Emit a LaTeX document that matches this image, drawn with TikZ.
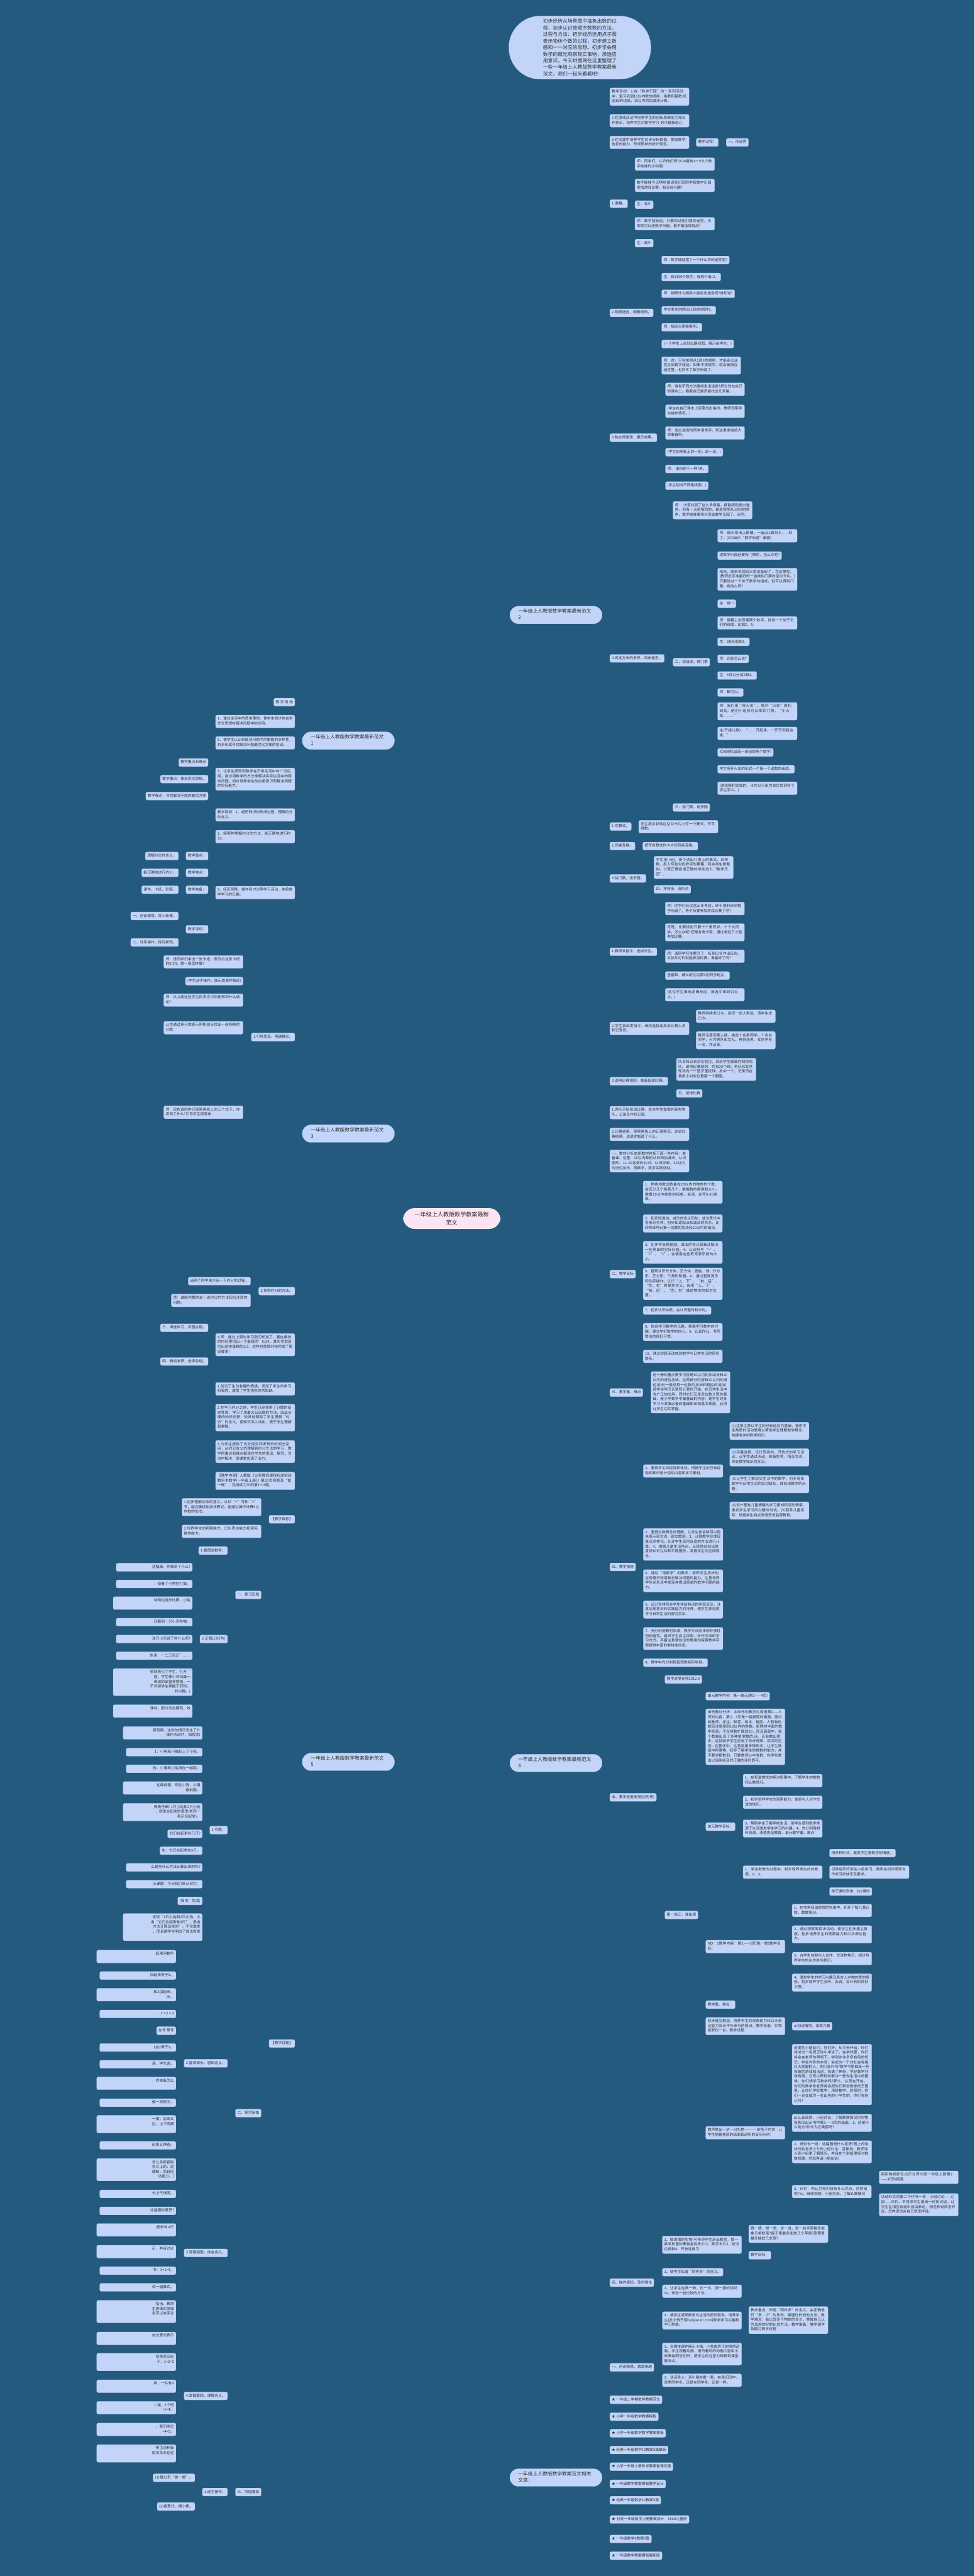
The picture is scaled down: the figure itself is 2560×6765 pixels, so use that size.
\documentclass[tikz,border=0pt]{standalone}
\usepackage{fontspec}
\setmainfont{Noto Sans CJK SC}
\XeTeXlinebreaklocale "zh"
\XeTeXlinebreakskip=0pt plus 1pt
\pgfdeclarelayer{bg}
\pgfsetlayers{bg,main}
\definecolor{bgc}{HTML}{245A7E}
\definecolor{nfill}{HTML}{C2D5F9}
\definecolor{nline}{HTML}{A9C0EE}
\definecolor{ntext}{HTML}{2E2E2E}
\definecolor{rootfill}{HTML}{FDE4F3}
\tikzset{
 nd/.style={fill=nfill, draw=nline, line width=0.6pt, rounded corners=4pt, inner xsep=5pt, inner ysep=4.2pt, text=ntext, align=left, font=\fontsize{9.6}{12.6}\selectfont, execute at begin node=\strut, execute at end node=\strut},
 lab/.style={fill=nfill, draw=nline, line width=0.6pt, rounded corners=22pt, inner xsep=22pt, inner ysep=7pt, text=ntext, align=flush left, text width=198pt, font=\fontsize{12.8}{16}\selectfont, execute at begin node=\strut, execute at end node=\strut},
 rootn/.style={fill=rootfill, draw=white, line width=0.6pt, rounded corners=30pt, inner xsep=30pt, inner ysep=10pt, text=ntext, align=center, font=\fontsize{15}{20}\selectfont},
 ellip/.style={fill=nfill, draw=nline, line width=0.6pt, rounded corners=82pt, minimum width=373pt, minimum height=166pt, text=ntext, align=left, font=\fontsize{12.9}{17.3}\selectfont},
 ln/.style={draw=white, line width=1.5pt, rounded corners=5pt},
 fan/.style={draw=white, line width=1.5pt},
}
\newcommand\boxR[5]{\node[nd,anchor=west,text width=#4pt] (#1) at (#2,#3) {#5};}
\newcommand\oneR[4]{\node[nd,anchor=west] (#1) at (#2,#3) {#4};}
\newcommand\boxL[5]{\node[nd,anchor=east,text width=#4pt] (#1) at (#2,#3) {#5};}
\newcommand\oneL[4]{\node[nd,anchor=east] (#1) at (#2,#3) {#4};}
\newcommand\fragL[5]{\node[nd,align=flush right,anchor=east,text width=#4pt] (#1) at (#2,#3) {#5};}
\newcommand\linkR[2]{\draw[ln] (#1.east) -- ++(10,0) |- (#2.west);}
\newcommand\linkL[2]{\draw[ln] (#1.west) -- ++(-10,0) |- (#2.east);}
\newcommand\fanR[2]{\draw[fan] (#1.east) .. controls +(12,0) and +(-12,0) .. (#2.west);}
\newcommand\fanL[2]{\draw[fan] (#1.west) .. controls +(-12,0) and +(12,0) .. (#2.east);}
\begin{document}
\begin{tikzpicture}[x=1pt,y=-1pt]
\fill[bgc] (0,0) rectangle (2560,6765);
\useasboundingbox (0,0) rectangle (2560,6765);

% ---------- root and summary ----------
\node[rootn] (root) at (1187,3200) {一年级上人教版数学教案最新\\范文};
\node[ellip] (ell) at (1523.5,125) {初步经历从场景图中抽象出数的过\\程，初步认识按顺序数数的方法。\\过程与方法：初步经历运用点子图\\表示物体个数的过程，初步建立数\\感和一一对应的思想。初步学会用\\数学的眼光观察现实事物，渗透应\\用意识。今天树图网在这里整理了\\一些一年级上人教版数学教案最新\\范文，我们一起来看看吧!};

% ---------- branch 2 (right) ----------
\node[lab,anchor=east] (b2) at (1582,1615) {一年级上人教版数学教案最新范文\\2};
\boxR{a1}{1602}{254}{198}{教学目标：1.在“数学乐园”的一系列活动中，复习巩固10以内数的顺序，序数和基数;巩固10的组成，10以内的加减法计算。}
\boxR{a2}{1602}{317}{198}{2.在游戏活动中培养学生的创新思维能力和合作意识，培养学生对数学学习 的兴趣和信心;}
\boxR{a3}{1602}{374}{198}{3.在实践中培养学生初步分析数据，提取数学信息的能力，形成简单的统计观念。}
\oneR{a3a}{1829}{374}{教学过程：}
\oneR{a3b}{1908}{374}{一、闯迷宫}
\oneR{a4}{1602}{535}{1.激趣。}
\boxR{a4a}{1668}{431}{199}{师：同学们，认识他们吗?(CAI播放1～9九个数字娃娃的小动画)}
\boxR{a4b}{1668}{487}{199}{数字娃娃今天特地邀请我们班同学到数学乐园参加游戏比赛。有没有兴趣?}
\oneR{a4c}{1668}{537.5}{生：有!!!}
\boxR{a4d}{1668}{587.5}{199}{师：数字娃娃说，只要闯过他们摆的迷宫，大家就可以进数学乐园。敢不敢接受挑战?}
\oneR{a4e}{1668}{638.5}{生：敢!!!}
\oneR{a5}{1602}{821.5}{2.观察迷宫，明确规则。}
\oneR{a5a}{1738}{683}{师：数学娃娃摆了一个什么样的迷宫呢?}
\oneR{a5b}{1738}{727.5}{生：有1到9个数字，有两个出口。}
\oneR{a5c}{1738}{771.5}{师：按照什么顺序才能走出迷宫呢?谁知道?}
\oneR{a5d}{1738}{815}{学生发言(按照从1到9的顺序)。}
\oneR{a5e}{1738}{859.5}{师：指给大家看看吧。}
\oneR{a5f}{1738}{903.5}{(一个学生上台划出路线图，展示给学生。)}
\boxR{a5g}{1738}{960}{198}{师：对。只有按照从1到9的顺序，才能走出迷宫见到数字娃娃。如果不按顺序，就会被困在迷宫里，也到不了数学乐园了。}
\oneR{a6}{1602}{1149.5}{3.独立闯迷宫，展示成果。}
\boxR{a6a}{1748}{1022.5}{198}{师：谁有不同方法路线走出迷宫?把它划在自己的课本上。看看自己最多能找出几条路。}
\boxR{a6b}{1748}{1080}{198}{(学生在自己课本上用笔划出路线，教师观察学生操作情况。)}
\boxR{a6c}{1748}{1137}{198}{师：走出迷宫的同学请举手。到这里来指给大家看看吧。}
\oneR{a6d}{1748}{1187.5}{(学生到黑板上划一划，说一说。)}
\oneR{a6e}{1748}{1231.5}{师： 谁和他不一样?来。}
\oneR{a6f}{1748}{1275.5}{(学生划出不同路线图。)}
\oneR{a7}{1602}{1729}{4.肯定方法的多样，闯出迷宫。}
\boxR{a7a}{1768}{1340}{198}{师： 大家找到了这么多条路，都能顺利走出迷宫。但有一点是相同的，都是按照从1到9的顺序。数字娃娃要带大家去数学乐园了。走吧。}
\oneR{a7b}{1768}{1739}{二、说组成，得门票}
\boxR{a7b1}{1885}{1407}{199}{师：请大家闭上眼睛，一起从1数到9……到了。(CAI出示“数学乐园”画面)}
\oneR{a7b2}{1885}{1459}{进数学乐园还要有门票的，怎么办呢?}
\boxR{a7b3}{1885}{1521.5}{199}{哈哈，原来早就给大家准备好了，在这里呢。(教师出示准备好的一沓类似门票的空白卡片。)只要说对一个关于数字的组成，就可以得到门票。有信心吗?}
\oneR{a7b4}{1885}{1585.5}{生：有!!!}
\boxR{a7b5}{1885}{1636}{199}{师：屏幕上出现哪两个数字，就说一个关于它们的组成。比如2，6。}
\oneR{a7b6}{1885}{1685.5}{生：2和6组成8。}
\oneR{a7b7}{1885}{1730}{师：还能怎么说?}
\oneR{a7b8}{1885}{1774}{生：6可以分成2和4。}
\oneR{a7b9}{1885}{1818.5}{师：都可以。}
\boxR{a7b10}{1885}{1868}{199}{师：我们来“开火车”。哪列“火车”顺利到站，他们小组就可以拿到门票。“小火车，……”}
\boxR{a7b11}{1885}{1926}{199}{生(齐接儿歌)：“……开起来，一开开到我这来。”}
\oneR{a7b12}{1885}{1976}{(CAI随机出现一组组的两个数字)}
\oneR{a7b13}{1885}{2020}{学生用开火车的形式一个接一个说数的组成。}
\boxR{a7b14}{1885}{2070}{199}{(游戏顺利完成的，卡片以小组为单位发到各个学生手中。)}
\oneR{a7c}{1768}{2120.5}{三、验门票，进乐园}
\oneR{a8}{1602}{2170.5}{1.写算式。}
\boxR{a8a}{1678}{2171}{198}{学生用水彩笔在空白卡片上写一个算式，不写得数。}
\oneR{a9}{1602}{2222}{2.同桌互换。}
\oneR{a9a}{1688.6}{2222}{把写有算式的卡片和同桌互换。}
\oneR{a10}{1602}{2307}{3.验门票，进乐园。}
\boxR{a10a}{1718}{2278}{198}{学生按小组，挨个读出门票上的算式，说得数，投入写有对应数字的票箱，其余学生做裁判。计算正确投递正确的学生进入“数学乐园”。}
\oneR{a10b}{1718}{2335.5}{四、排排坐，选队员}
\oneR{a11}{1602}{2499.5}{1.教师发指令，选拔学生。}
\boxR{a11a}{1747.5}{2386}{198}{师：同学们经过这么多考验，终于顺利来到数学乐园了。等不及要参加游戏比赛了吧?}
\boxR{a11b}{1747.5}{2448.5}{198}{可是，比赛规定只要十个男同学，十个女同学。怎么办呢?还是考考大家，通过考验了才能参加比赛。}
\boxR{a11c}{1747.5}{2511}{198}{师：请同学们坐整齐了，听到口令作出反应，又快又对的就能参加比赛。准备好了吗?}
\oneR{a11d}{1747.5}{2562}{竖着数，请从前往后第3位同学起立。}
\boxR{a11e}{1747.5}{2612.5}{198}{(这位学生做出正确反应，被选中来到讲台上。)}
\boxR{a12}{1602}{2701}{198}{2.学生尝试发指令，继续选拔出其余比赛人员和记录员。}
\boxR{a12a}{1828.7}{2669}{198}{教师继续发口令，选择一定人数后，请学生发口令。}
\boxR{a12b}{1828.7}{2732}{198}{教师注意观察人数，挑选十名男同学，十名女同学，分为男队和女队。再挑选男、女同学各一名，作记录。}
\oneR{a13}{1602}{2839.5}{3.说明比赛规则，准备投球比赛。}
\boxR{a13a}{1777}{2808.5}{199}{队员和记录员各就位，其余学生做裁判和啦啦队。说明比赛规则：共有20个球，男队和女队轮流向一个篮子里投球，投中一个，记录员在黑板上对应位置画一个圈圈。}
\oneR{a13b}{1777}{2871.5}{五、投球比赛}
\boxR{a14}{1602}{2922}{198}{1.两队开始投球比赛，其余学生做裁判和啦啦队，记录员作好记录。}
\boxR{a15}{1602}{2979}{198}{2.比赛结束，观察黑板上的记录情况，说说比赛结果，说说你知道了什么。}

% ---------- branch 4 (right) ----------
\node[lab,anchor=east] (b4) at (1582,4630) {一年级上人教版数学教案最新范文\\4};
\boxR{d1}{1602}{3049}{198}{一、教材分析本册教材包括下面一些内容：准备课、位置、10以内数的认识和加减法，认识图形、11-20各数的认识、认识钟表、20以内的进位加法，用数学，数学实践活动。}
\oneR{d2}{1602}{3346}{二、教学目标}
\boxR{d2a}{1689.5}{3131}{198}{1、熟练地数出数量在20以内的物体的个数，会区分几个和第几个，掌握数的顺序和大小，掌握10以内各数的组成，会读、会写0-20各数。}
\boxR{d2b}{1689.5}{3213}{198}{2、初步知道加、减法的含义和加、减法算式中各部分名称，初步知道加法和减法的关系，比较熟练地计算一位数的加法和10以内的减法。}
\boxR{d2c}{1689.5}{3289}{198}{3、初步学会根据加、减法的含义和算法解决一些简单的实际问题。4、认识符号“=”、“>”、“<”，会使用这些符号表示数的大小。}
\boxR{d2d}{1689.5}{3371.5}{198}{5、直观认识长方体、正方体、圆柱、球、长方形、正方形、三角形和圆。6、通过直观演示和动手操作，认识“上、下”、“前、后”、“左、右”的基本含义，会用“上、下”、“前、后”、“左、右”描述物体的相对位置。}
\oneR{d2e}{1689.5}{3441.5}{7、初步认识钟表，会认识整时和半时。}
\boxR{d2f}{1689.5}{3498}{198}{8、体会学习数学的乐趣，提高学习数学的兴趣，建立学好数学的信心。9、认真作业、书写整洁的良好习惯。}
\boxR{d2g}{1689.5}{3562}{198}{10、通过实践活动体验数学与日常生活的密切联系。}
\oneR{d3}{1602}{3657}{三、教学重、难点}
\boxR{d3a}{1710}{3656.5}{198}{这一册的重点教学内容是10以内的加减法和20以内的进位加法。这两部分内容和20以内的退位减法(一般总称一位数的加法和相应的减法)是学生学习认数和计算的开始，在日常生活中有广泛的应用，同时它们又是多位数计算的基础，是小学数学中最基础的内容，是学生终身学习与发展必备的基础知识和基本技能，必须让学生切实掌握。}
\oneR{d4}{1602}{4115}{四、教学措施}
\boxR{d4a}{1690}{3863}{199}{1、重视学生的经验和体验，根据学生的已有经验和知识设计活动内容和学习素材。}
\boxR{d4a1}{1917}{3758}{198}{(1)注意注意以学生的已有经验为基础，提供学生熟悉的活动情境以帮助学生理解数学概念，构建有关的数学知识。}
\boxR{d4a2}{1917}{3827.5}{198}{(2)尽量选择、设计现实的、开放式的学习活动，让学生通过活动，积极思考、相互交流，体会数学知识的含义。}
\boxR{d4a3}{1917}{3897.5}{198}{(3)让学生了解现实生活中的数学，初步感受数学与日常生活的密切联系，体验用数学的乐趣。}
\boxR{d4a4}{1917}{3967}{198}{(4)设计富有儿童情趣的学习素材和活动情境，激发学生学习的兴趣与动机。(5)联系儿童实际、根据学生特点渗透思想品德教育。}
\boxR{d4b}{1690}{4056}{199}{2、重视对数概念的理解，让学生体会数可以用来表示和交流，建立数感。3、计算教学应体现算法多样化，允许学生采用合适的方法进行计算。4、根据儿童生活特点，从感性经验出发直观认识立体和平面图形，发展学生的空间观念。}
\boxR{d4c}{1690}{4151.5}{199}{5、通过“用数学”的教学，培养学生初步的应用意识和用数学解决问题的能力。注意培养学生从生活中发现并提出简单的数学问题的能力。}
\boxR{d4d}{1690}{4227}{199}{6、设计安排符合学生年龄特点的实践活动，注意应用意识和实践能力的培养，使学生体验数学与日常生活的密切关系。}
\boxR{d4e}{1690}{4303}{199}{7、充分利用教材资源，教学方法应体现开放性和创造性。组织学生自主探索、合作交流的学习方式。尽量注意使创设的情境为探索数学问题提供丰富的素材或信息。}
\oneR{d4f}{1690}{4366.5}{8、教学中充分利用直观教具和学具。}
\oneR{d5}{1602}{4720}{五、教学进度安排(见附表)}
\oneR{d5a}{1746.6}{4410.5}{教学进度安排2012.9}
\oneR{d5b}{1746.6}{5029}{第一单元：准备课}
\oneR{d5b1}{1854}{4454.5}{单元教学内容：第一单元(第1——4页)}
\boxR{d5b2}{1854}{4561}{198}{单元教材分析：本单元的教学内容是第2——5页的内容，第2、3页是一幅美丽的画面，图中有教师、学生、鲜花、树木、楼房、人和物的数目注意用到10以内的各数。新教材丰富的教学资源，不仅将数扩展到20，而且画面中，每个数量出现了多种角度数的.话，还会数出很多，这就给予学生创设了充分观察、探究的空间。在教学中，注意采用多种形式，让学生数画中的事物，初步了解学生的数数的能力，并不要求都数到，只要教师心中有数，在学生数出以后能给及时正确的评价即可。}
\oneR{d5b3}{1854}{4797}{单元教学目标：}
\boxR{e1}{1952}{4676}{198}{1、在和谐愉悦的探讨氛围中，了解学生的数数和认数情况。}
\boxR{e2}{1952}{4733}{198}{2、初步培养学生的观察能力，体验与人合作交流的快乐。}
\boxR{e3}{1952}{4802}{198}{3、帮助学生了解学校生活，使学生感到数学来源于生活激发学生学习的兴趣。4、充分利用材料资源，渗透思品教育。单元教学重、难点：}
\boxR{e4}{1952}{4916.6}{198}{1、学生数数的过程中，初步培养学生的的数感。2、3、}
\oneR{e4a}{2179}{4866.5}{用多种形式，激发学生爱数学的情感。}
\boxR{e4b}{2179}{4916.6}{199}{引导组织好学生小组学习，使学生初步感知合作学习的快乐及要求。}
\oneR{e4c}{2179}{4967.5}{单元课时安排：约2课时}
\boxR{d5b4}{1854}{5112}{198}{NO：1教学内容：第2——5页(数一数)教学目标：}
\boxR{f1}{2081}{5017}{199}{1、在非常和谐愉悦的氛围中，初步了解儿童认数、数数情况。}
\boxR{f2}{2081}{5080}{199}{2、通过观察等探求活动，使学生初步建立数感，初步培养学生的观察能力和口头表达能力。}
\boxR{f3}{2081}{5143.5}{199}{3、合学生体验与人合作、交流物快乐，初步培养学生的合作参与意识。}
\boxR{f4}{2081}{5206.5}{199}{4、激发学生的学习兴趣及其对人对物的爱的情感，初步培养学生会听、会说、会补充的良好习惯。}
\oneR{d5b5}{1854}{5264.5}{教学重、难点：}
\boxR{d5b6}{1854}{5321}{198}{初步建立数感，培养学生的观察能力和口头表达能力及合作与参与的意识。教学准备：实物投影仪一台。教学过程：}
\oneR{g1}{2081}{5321}{a)创设情境，激发兴趣}
\boxR{d5b7}{1854}{5601}{198}{教师拿出一封一份礼物————金龟子的信，让学生随着美丽的画面和动听的音乐听信：}
\boxR{h1}{2081}{5448}{199}{亲爱的小朋友们，你们好，从今天开始，你们将成为一名真正的小学生了，在学校里，你们将会在老师的带领下，学到许许多多有用的知识，学会许多的本领，会成为一个对社会有着巨大贡献的人，你们高兴吗?数学书里都是一些有趣的游戏和活动，充满了神奇，学好数学非常有用，它可以帮助你解决一些你生活中的困难，你们想学习数学吗?那么，从现在开始，你们的数学陈老师将会把你们带进数学的王国里，让你们学好数学，用好数学，到那时，你们一定会成为一名出色的小学生的，你们有信心吗?}
\boxR{h2}{2081}{5575}{199}{b)认真观察，小组讨论，了解数数情况用实物投影仪出示书中第2——3页的画面。1、这是什么地方?你认为它美丽吗?}
\boxR{h3}{2081}{5651}{199}{2、请你说一说：这幅图是什么意思?图上的物体分别有多少?(先小组讨论，互相说，教师深入到小组里了解情况，并且在个别组里探讨数数规律，然后再请小朋友说)}
\boxR{h4}{2081}{5755.5}{198}{3、评价：你认为你们组有什么优点，别的组呢?三、继续观察，小组交流，了解认数情况}
\boxR{h4a}{2309.5}{5718}{198}{用实物投影仪出示北师大版一年级上册第2——3页的图画}
\boxR{h4b}{2309.5}{5790}{198}{活动形式同第二个环节一样：小组讨论——汇报——评价，不苛求学生用统一的形式说，让学生在相互启迪中自由表达，想怎样说就怎样说，怎样说适合自己就怎样说。}
\oneR{d6}{1602}{5994.6}{四、操作感知，及时强化}
\boxR{d6a}{1740}{5895}{198}{1、数周围的实物(可带领学生走出教室，数一数学校里的事物各有多少)2、数字卡片3、按方位数数4、开放性练习}
\boxR{d6a1}{1967}{5866.5}{198}{猜一猜，想一想、说一说，验一验手里最多能拿几根粉笔?盘子里最多能放几个苹果?笔筒里最多能放几支笔?}
\oneR{d6a2}{1967}{5922.5}{教学目标：}
\oneR{d6b}{1740}{5967}{1、使学生知道“同样多”的含义。}
\boxR{d6c}{1740}{6017}{198}{2、让学生在数一数、比一比、摆一摆的活动中，体验一些比较的方法。}
\boxR{d6d}{1740}{6094}{198}{3、使学生感受数学与生活的密切联系，培养学生[此文转于网taojiaoan.com]数学学习兴趣和学习热情。}
\boxR{d6d1}{1967}{6093}{198}{教学重点：知道“同样多”的含义，会正确进行“多、少”的比较，掌握比的较的方法。教学难点：会比较多个物体的多少，掌握自己认为适用的好的比较方法。教学准备：教学课件及图片教学过程}
\oneR{d7}{1602}{6217}{一、创设情境，激发情趣}
\boxR{d7a}{1740}{6182}{198}{1、多媒体课件展示小猪、小兔盖房子的情境动画。学生观看动画，用所看到的动画内容讲小故事给同学们听，把学生的注意力转移到课堂教学中。}
\boxR{d7b}{1740}{6251}{198}{2、谈话导入：请小朋友看一看，在我们班中，是男同学多，还是女同学多，还是一样。}

% ---------- related articles (right) ----------
\node[lab,anchor=east] (b6) at (1582,6506.5) {一年级上人教版数学教案范文相关\\文章：};
\oneR{s1}{1602}{6302}{★ 一年级上学期数学教案范文}
\oneR{s2}{1602}{6346.5}{★ 小学一年级数学教案模板}
\oneR{s3}{1602}{6390}{★ 小学一年级数学教学教案模板}
\oneR{s4}{1602}{6434}{★ 经典一年级数学10教案5篇最新}
\oneR{s5}{1602}{6478}{★ 小学一年级上册数学教案备课五篇}
\oneR{s6}{1602}{6523}{★ 一年级数学教案模板教学设计}
\oneR{s7}{1602}{6566}{★ 经典一年级数学10教案5篇}
\boxR{s8}{1602}{6616.5}{198}{★ 分类一年级数学上册教案设计 - 5068儿童网}
\oneR{s9}{1602}{6667.7}{★ 一年级数学0教案5篇}
\oneR{s10}{1602}{6711.7}{★ 一年级数学教案模板最新版}

% ---------- branch 1 (left) ----------
\node[lab,anchor=west] (b1) at (794,1945) {一年级上人教版数学教案最新范文\\1};
\oneL{l1a}{774.7}{1844}{教\ 学\ 目\ 标}
\boxL{l1b}{774.7}{1894.7}{198}{1、通过生活中的简单事例，使学生初步体会到优化思想在解决问题中的应用。}
\boxL{l1c}{774.7}{1951}{198}{2、使学生认识到解决问题中的策略的多样性，初步形成寻找解决问题最优化方案的意识。}
\boxL{l1d}{774.7}{2046}{198}{3、让学生感受到数学在日常生活中的广泛应用，尝试用数学的方法来解决实际生活中的简单问题，初步培养学生的应用意识和解决问题的实际能力。}
\oneL{l1d1}{547}{2002.5}{教学重点和难点}
\oneL{l1d2}{547}{2046}{教学重点：体会优化思想。}
\oneL{l1d3}{547}{2090.5}{教学难点：寻找解决问题的最优方案}

% ---------- branch 3 (left) ----------
\node[lab,anchor=west] (b3) at (794,2977) {一年级上人教版数学教案最新范文\\3};
\boxL{l3a}{774.7}{2140}{198}{教学目标：1、经历知识的形成过程，理解约分的含义。}
\boxL{l3b}{774.7}{2197}{198}{2、探索并掌握约分的方法，能正确地进行约分。}
\boxL{l3c}{774.7}{2344}{198}{3、经历观察、操作和讨论等学习活动，体验数学学习的乐趣。}
\oneL{l3c1}{547}{2248}{教学重点：}
\oneL{l3c1a}{469}{2248}{理解约分的含义。}
\oneL{l3c2}{547}{2292}{教学难点：}
\oneL{l3c2a}{469}{2292}{能正确地进行约分。}
\oneL{l3c3}{547}{2336.5}{教学准备：}
\oneL{l3c3a}{469}{2336.5}{课件、卡纸、彩笔。}
\oneL{l3c4}{547}{2440.5}{教学活动：}
\oneL{l3c4a}{469}{2405.5}{一、创设情境，导入新课。}
\oneL{l3c4b}{469}{2475}{二、动手操作，探究新知。}
\oneL{l3d}{774.7}{2723.5}{1.引导发现，明确概念。}
\boxL{l3d1}{638.7}{2526}{198}{师：请同学们拿出一张卡纸，表示出这张卡纸的8/24，想一想怎样做?}
\oneL{l3d2}{638.7}{2576.5}{(学生动手操作，展示成果并解说)}
\boxL{l3d3}{638.7}{2626.5}{198}{师：从上面这些学生的发言中你能得到什么结论?}
\boxL{l3d4}{638.7}{2699}{198}{让生通过用分数表示阴影部分找出一组相等的分数：}
\boxL{l3d5}{638.7}{2921}{198}{师：现在请同学们观察黑板上的三个式子，你发现了什么?引导学生回答出：}
\oneL{l3e}{774.7}{3390.6}{2.探索约分的方法。}
\oneL{l3e1}{658.5}{3364.5}{请两个同学来介绍一下约分的过程。}
\boxL{l3e2}{658.5}{3415}{198}{师：谁能完整的说一说约分的方法和应注意的问题。}
\boxL{l3f}{774.7}{3531.5}{198}{3.师：通过上面的学习我们知道了，要在最快的时间里切出一个蛋糕的’8/24，其实也就是切出这块蛋糕的1/3，这样也就顺利地完成了题目要求!}
\oneL{l3f1}{547}{3487}{三、课堂练习，巩固应用。}
\oneL{l3f2}{547}{3575.5}{四、畅谈收获，全课总结。}
\boxL{l3g}{774.7}{3647.5}{198}{1.创设了生动有趣的情境，调动了学生的学习积极性，激发了学生强烈的求知欲。}
\boxL{l3h}{774.7}{3723}{198}{2.在学习约分之前，学生已经探索了分数的基本性质，学习了求最大公因数的方法，因此合理的知识迁移，较好地帮助了学生理解“约分”的含义，使知识深入浅出，便于学生理解和掌握。}
\boxL{l3i}{774.7}{3812}{198}{3.为学生提供了充分探究和发现的时间与空间，从约分含义的理解到约分方法的学习，教学的重点和难点都是在学生的发现、探究、交流中解决，使课堂充满了活力。}

% ---------- branch 5 (left) ----------
\node[lab,anchor=west] (b5) at (794,4627) {一年级上人教版数学教案最新范文\\5};
\boxL{l5a}{774.7}{3889}{198}{【教学内容】人教版《义务教育课程标准实验教科书数学(一年级上册)》第23页例题及“做一做”，完成练习三的第1～3题。}
\oneL{l5b}{774.7}{3990}{【教学目标】}
\boxL{l5b1}{686.5}{3958}{198}{1.初步理解加法的意义，认识“+”号和“=”号，能正确读出加法算式，能通过操作计算5以内数的加法。}
\boxL{l5b2}{686.5}{4021.6}{198}{2.培养学生的观察能力、口头表达能力和实际操作能力。}
\oneL{l5c}{774.7}{5366.5}{【教学过程】}
\oneL{l5c1}{686.5}{4188.5}{一、复习旧知}
\oneL{m1}{598}{4072}{1.看图说数字。}
\oneL{m2}{598}{4304.5}{2.示图(幻灯片)}
\fragL{m2a}{505.6}{4115.8}{190}{这幅画，你看到了什么?}
\fragL{m2b}{505.6}{4159.7}{190}{：我看了小熊在打鼓。}
\fragL{m2c}{505.6}{4210}{198}{动物在跑步比赛，小兔\\}
\fragL{m2d}{505.6}{4260}{190}{还看到一只小鸟在喊。}
\fragL{m2e}{505.6}{4304.3}{190}{这只小鸟说了些什么呢?}
\fragL{m2f}{505.6}{4348}{190}{生读：一二三四五”……}
\fragL{m2g}{505.6}{4417.5}{198}{很快吸引了学生，打开“\\题，学生像小鸟归巢一\\表现的欲望非常强。一\\不仅使学生掌握了旧知，\\的兴趣。]}
\fragL{m2h}{505.6}{4493.5}{198}{课件，配以动态展现，效\\}
\oneL{l5c2}{686.5}{5549.5}{二、探究新知}
\oneL{n1}{598}{4806}{1.引题。}
\fragL{n1a}{531.8}{4551}{198}{意观察，这时的情况发生了什\\操作活动片，如右图)}
\fragL{n1b}{531.8}{4601.5}{190}{1：小狗和小猫赶上了小兔。}
\fragL{n1c}{531.8}{4645}{190}{狗、小猫和小兔排在一起跑。}
\fragL{n1d}{531.8}{4695.5}{198}{在最前面，现在小狗、小猫\\最前面。}
\fragL{n1e}{531.8}{4759}{198}{得真仔细! 1只小兔和2只小狗\\，就是合起来的意思(老师一\\表示合起来)。}
\oneL{n1f}{531.8}{4816}{它们合起来有几只?}
\oneL{n1g}{531.8}{4860}{生：它们合起来有3只。}
\fragL{n1h}{531.8}{4904}{190}{么是用什么方法计算出来的吗?}
\fragL{n1i}{531.8}{4948}{190}{示课题：今天我们来认识它。}
\oneL{n1j}{531.8}{4992}{(板书：加法)}
\fragL{n1k}{531.8}{5061}{198}{发现“1只小兔和2只小狗、小\\出“它们合起来有3只”，很自\\方法计算出来的”，不仅激发\\，而且使学生明白了加法原来\\}
\oneL{n2}{598}{5418.5}{2.直观演示，感知含义。}
\fragL{n2a}{462.4}{5138}{198}{起来用数字\\}
\fragL{n2b}{462.4}{5188}{190}{加起来等于3。}
\fragL{n2c}{462.4}{5238.5}{198}{和2加起来，\\示。}
\fragL{n2d}{462.4}{5289}{190}{：1 + 2 = 3}
\oneL{n2e}{462.4}{5333}{加号 等号}
\fragL{n2f}{462.4}{5377}{190}{1加2等于3。}
\fragL{n2g}{462.4}{5421}{190}{读，学生读。}
\fragL{n2h}{462.4}{5471}{198}{，你准备怎么\\}
\fragL{n2i}{462.4}{5522}{190}{像一双筷子。}
\fragL{n2j}{462.4}{5578.5}{198}{一横，后来又\\拉，上下两横\\}
\fragL{n2k}{462.4}{5634}{190}{形象又神奇。}
\fragL{n2l}{462.4}{5698}{198}{多么多新颖别\\含义上的，这\\理解，而且培\\达能力。]}
\oneL{n3}{598}{5916.5}{3.观察画面，体会含义。}
\fragL{n3a}{462.4}{5761.5}{190}{书上气球图。}
\fragL{n3b}{462.4}{5806}{190}{这幅图的意思?}
\fragL{n3c}{462.4}{5856}{198}{起来有 4只\\}
\fragL{n3d}{462.4}{5913}{198}{示，并且讨论\\}
\fragL{n3e}{462.4}{5963}{190}{书：3+1=4。}
\fragL{n3f}{462.4}{6007}{190}{读一遍算式。}
\fragL{n3g}{462.4}{6070.5}{198}{恰当，教师\\生思维的发展\\全可以放手让\\}
\oneL{n4}{598}{6292}{4.发散联想，理解含义。}
\fragL{n4a}{462.4}{6141}{198}{加法算式表示\\}
\fragL{n4b}{462.4}{6203}{198}{我爸爸又给\\子，1+2=3\\}
\fragL{n4c}{462.4}{6266.5}{198}{孩，一共有3\\}
\fragL{n4d}{462.4}{6323}{198}{二楼，1个班\\+1=4。}
\fragL{n4e}{462.4}{6380}{198}{，我们座位\\+4=5。}
\fragL{n4f}{462.4}{6443}{198}{得主动积极\\密切关系在这\\}
\oneL{l5c3}{686.5}{6544.5}{三、巩固提高}
\oneL{o1}{598}{6544.5}{1.动手操作。}
\oneL{o1a}{512}{6507}{(1)第23页“做一做”。}
\oneL{o1b}{512}{6582.5}{(2)看算式，摆小棒。}

% ---------- connectors ----------
\begin{pgfonlayer}{bg}
\draw[fan] (root.center) .. controls (1310,1400) and (1250,125) .. (ell.west);
\draw[fan] (root.center) .. controls (1300,2200) and (1262,1615) .. (b2.west);
\draw[fan] (root.center) .. controls (1300,4000) and (1262,4630) .. (b4.west);
\draw[fan] (root.center) .. controls (1300,5300) and (1262,6506.5) .. (b6.west);
\draw[fan] (root.center) .. controls (1095,2600) and (1128,1945) .. (b1.east);
\draw[fan] (root.center) .. controls (1110,3100) and (1110,2977) .. (b3.east);
\draw[fan] (root.center) .. controls (1095,3900) and (1128,4627) .. (b5.east);
\foreach \c in {a1,a2,a3,a4,a5,a6,a7,a8,a9,a10,a11,a12,a13,a14,a15} {\fanR{b2}{\c}}
\linkR{a3}{a3a}\linkR{a3a}{a3b}
\foreach \c in {a4a,a4b,a4c,a4d,a4e} {\linkR{a4}{\c}}
\foreach \c in {a5a,a5b,a5c,a5d,a5e,a5f,a5g} {\linkR{a5}{\c}}
\foreach \c in {a6a,a6b,a6c,a6d,a6e,a6f} {\linkR{a6}{\c}}
\foreach \c in {a7a,a7b,a7c} {\linkR{a7}{\c}}
\foreach \c in {a7b1,a7b2,a7b3,a7b4,a7b5,a7b6,a7b7,a7b8,a7b9,a7b10,a7b11,a7b12,a7b13,a7b14} {\linkR{a7b}{\c}}
\linkR{a8}{a8a}\linkR{a9}{a9a}\linkR{a10}{a10a}\linkR{a10}{a10b}
\foreach \c in {a11a,a11b,a11c,a11d,a11e} {\linkR{a11}{\c}}
\linkR{a12}{a12a}\linkR{a12}{a12b}\linkR{a13}{a13a}\linkR{a13}{a13b}
\foreach \c in {d1,d2,d3,d4,d5,d6,d7} {\fanR{b4}{\c}}
\foreach \c in {d2a,d2b,d2c,d2d,d2e,d2f,d2g} {\linkR{d2}{\c}}
\linkR{d3}{d3a}
\foreach \c in {d4a,d4b,d4c,d4d,d4e,d4f} {\linkR{d4}{\c}}
\foreach \c in {d4a1,d4a2,d4a3,d4a4} {\linkR{d4a}{\c}}
\linkR{d5}{d5a}\linkR{d5}{d5b}
\foreach \c in {d5b1,d5b2,d5b3,d5b4,d5b5,d5b6,d5b7} {\linkR{d5b}{\c}}
\foreach \c in {e1,e2,e3,e4} {\linkR{d5b3}{\c}}
\foreach \c in {e4a,e4b,e4c} {\linkR{e4}{\c}}
\foreach \c in {f1,f2,f3,f4} {\linkR{d5b4}{\c}}
\linkR{d5b6}{g1}
\foreach \c in {h1,h2,h3,h4} {\linkR{d5b7}{\c}}
\linkR{h4}{h4a}\linkR{h4}{h4b}
\foreach \c in {d6a,d6b,d6c,d6d} {\linkR{d6}{\c}}
\linkR{d6a}{d6a1}\linkR{d6a}{d6a2}\linkR{d6d}{d6d1}
\linkR{d7}{d7a}\linkR{d7}{d7b}
\foreach \c in {s1,s2,s3,s4,s5,s6,s7,s8,s9,s10} {\fanR{b6}{\c}}
\foreach \c in {l1a,l1b,l1c,l1d} {\fanL{b1}{\c}}
\foreach \c in {l1d1,l1d2,l1d3} {\linkL{l1d}{\c}}
\foreach \c in {l3a,l3b,l3c,l3d,l3e,l3f,l3g,l3h,l3i} {\fanL{b3}{\c}}
\foreach \c in {l3c1,l3c2,l3c3,l3c4} {\linkL{l3c}{\c}}
\linkL{l3c1}{l3c1a}\linkL{l3c2}{l3c2a}\linkL{l3c3}{l3c3a}\linkL{l3c4}{l3c4a}\linkL{l3c4}{l3c4b}
\foreach \c in {l3d1,l3d2,l3d3,l3d4,l3d5} {\linkL{l3d}{\c}}
\linkL{l3e}{l3e1}\linkL{l3e}{l3e2}\linkL{l3f}{l3f1}\linkL{l3f}{l3f2}
\foreach \c in {l5a,l5b,l5c} {\fanL{b5}{\c}}
\linkL{l5b}{l5b1}\linkL{l5b}{l5b2}
\foreach \c in {l5c1,l5c2,l5c3} {\linkL{l5c}{\c}}
\linkL{l5c1}{m1}\linkL{l5c1}{m2}
\foreach \c in {m2a,m2b,m2c,m2d,m2e,m2f,m2g,m2h} {\linkL{m2}{\c}}
\foreach \c in {n1,n2,n3,n4} {\linkL{l5c2}{\c}}
\foreach \c in {n1a,n1b,n1c,n1d,n1e,n1f,n1g,n1h,n1i,n1j,n1k} {\linkL{n1}{\c}}
\foreach \c in {n2a,n2b,n2c,n2d,n2e,n2f,n2g,n2h,n2i,n2j,n2k,n2l} {\linkL{n2}{\c}}
\foreach \c in {n3a,n3b,n3c,n3d,n3e,n3f,n3g} {\linkL{n3}{\c}}
\foreach \c in {n4a,n4b,n4c,n4d,n4e,n4f} {\linkL{n4}{\c}}
\linkL{l5c3}{o1}\linkL{o1}{o1a}\linkL{o1}{o1b}
\end{pgfonlayer}
\end{tikzpicture}
\end{document}
